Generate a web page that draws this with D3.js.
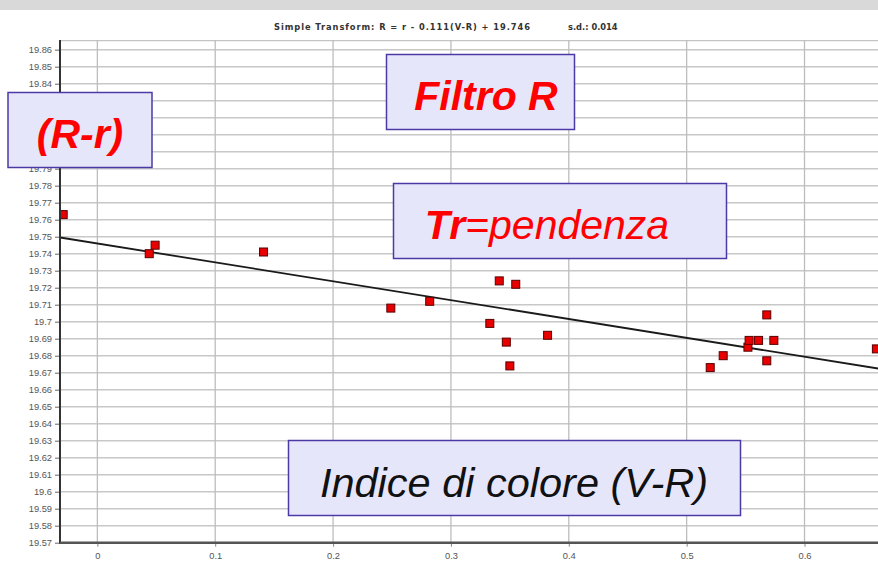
<!DOCTYPE html>
<html>
<head>
<meta charset="utf-8">
<script src="https://cdn.jsdelivr.net/npm/d3@7"></script>
<style>
  html, body { margin: 0; padding: 0; background: #fff; }
  svg { display: block; }
</style>
</head>
<body>
<svg id="chart" width="878" height="576"></svg>
<script>
// Observations: colour index (V-R) and instrumental difference (R-r)
const colorIndex = [-0.029, 0.044, 0.049, 0.141, 0.249, 0.282, 0.341, 0.355, 0.333, 0.347, 0.350, 0.382,
                    0.520, 0.531, 0.552, 0.553, 0.561, 0.574, 0.568, 0.568, 0.661];
const deltaMag   = [19.763, 19.740, 19.745, 19.741, 19.708, 19.712, 19.724, 19.722, 19.699, 19.688, 19.674, 19.692,
                    19.673, 19.680, 19.685, 19.689, 19.689, 19.689, 19.704, 19.677, 19.684];

// Fitted transform
const slope = -0.111;
const intercept = 19.746;

const xTicks = [0, 0.1, 0.2, 0.3, 0.4, 0.5, 0.6];
const xTickLabels = ["0", "0.1", "0.2", "0.3", "0.4", "0.5", "0.6"];
const yTicks = [19.57, 19.58, 19.59, 19.6, 19.61, 19.62, 19.63, 19.64, 19.65, 19.66, 19.67, 19.68, 19.69, 19.7,
                19.71, 19.72, 19.73, 19.74, 19.75, 19.76, 19.77, 19.78, 19.79, 19.8, 19.81, 19.82, 19.83, 19.84, 19.85, 19.86];
const yTickLabels = yTicks.map(v => String(v));

const titleText = "Simple Transform: R = r - 0.111(V-R) + 19.746";
const sdText = "s.d.: 0.014";

const notes = [
  { parts: [{ t: "(R-r)", bold: true }], color: "#ff0000" },
  { parts: [{ t: "Filtro R", bold: true }], color: "#ff0000" },
  { parts: [{ t: "Tr", bold: true }, { t: "=pendenza", bold: false }], color: "#ff0000" },
  { parts: [{ t: "Indice di colore (V-R)", bold: false }], color: "#111111" }
];

// ---- layout ----
const svg = d3.select("#chart");
const W = 878, H = 576;
const plot = { left: 60, top: 40, bottom: 542.7, right: 887 };

const x = d3.scaleLinear().domain([-0.0317, 0.67]).range([plot.left, plot.right]);
const y = d3.scaleLinear().domain([19.57, 19.8657]).range([plot.bottom, plot.top]);

const FONT = "'Liberation Sans', Arial, sans-serif";

// window strip at the very top
svg.append("rect").attr("x", 0).attr("y", 0).attr("width", W).attr("height", 10).attr("fill", "#d9d9d9");

// title
svg.append("text").attr("x", 274).attr("y", 30)
  .attr("font-family", "'DejaVu Sans', Verdana, sans-serif").attr("font-size", 8.3).attr("font-weight", "bold")
  .attr("fill", "#333").attr("textLength", 256).text(titleText);
svg.append("text").attr("x", 568).attr("y", 30)
  .attr("font-family", "'DejaVu Sans', Verdana, sans-serif").attr("font-size", 8.3).attr("font-weight", "bold")
  .attr("fill", "#333").text(sdText);

svg.append("defs").append("clipPath").attr("id", "plotClip")
  .append("rect").attr("x", plot.left).attr("y", plot.top)
  .attr("width", plot.right - plot.left).attr("height", plot.bottom - plot.top);

const g = svg.append("g").attr("clip-path", "url(#plotClip)");

// top border of the plot
g.append("line").attr("x1", plot.left).attr("x2", plot.right)
  .attr("y1", plot.top + 0.5).attr("y2", plot.top + 0.5).attr("stroke", "#c4c4c4").attr("stroke-width", 1.5);

// horizontal grid
g.selectAll("line.hgrid").data(yTicks).join("line").attr("class", "hgrid")
  .attr("x1", plot.left).attr("x2", plot.right)
  .attr("y1", d => y(d)).attr("y2", d => y(d))
  .attr("stroke", "#c8c8c8").attr("stroke-width", 1.6);

// vertical grid
g.selectAll("line.vgrid").data(xTicks).join("line").attr("class", "vgrid")
  .attr("x1", d => x(d)).attr("x2", d => x(d))
  .attr("y1", plot.top).attr("y2", plot.bottom)
  .attr("stroke", "#bdbdbd").attr("stroke-width", 1.3);

// axes
const yAxis = d3.axisLeft(y).tickValues(yTicks).tickSize(5).tickPadding(3)
  .tickFormat((d, i) => yTickLabels[i]);
const yG = svg.append("g").attr("transform", `translate(${plot.left},0)`).call(yAxis);
yG.select(".domain").remove();
yG.selectAll("line").attr("stroke", "#666");
yG.selectAll("text").attr("font-family", FONT).attr("font-size", 9.3).attr("fill", "#555");

const xAxis = d3.axisBottom(x).tickValues(xTicks).tickSize(4).tickPadding(6)
  .tickFormat((d, i) => xTickLabels[i]);
const xG = svg.append("g").attr("transform", `translate(0,${plot.bottom})`).call(xAxis);
xG.select(".domain").remove();
xG.selectAll("line").attr("stroke", "#888");
xG.selectAll("text").attr("font-family", FONT).attr("font-size", 9.3).attr("fill", "#555");

svg.append("line").attr("x1", plot.left).attr("x2", plot.left)
  .attr("y1", plot.top).attr("y2", plot.bottom + 1)
  .attr("stroke", "#333").attr("stroke-width", 2);
svg.append("line").attr("x1", plot.left).attr("x2", W)
  .attr("y1", plot.bottom).attr("y2", plot.bottom)
  .attr("stroke", "#555").attr("stroke-width", 2.5);

// regression line
const xd = x.domain();
g.append("line")
  .attr("x1", x(xd[0])).attr("y1", y(intercept + slope * xd[0]))
  .attr("x2", x(xd[1])).attr("y2", y(intercept + slope * xd[1]))
  .attr("stroke", "#1a1a1a").attr("stroke-width", 1.8);

// data markers
const pts = colorIndex.map((v, i) => ({ vx: v, vy: deltaMag[i] }));
const S = 8;
g.selectAll("rect.pt").data(pts).join("rect").attr("class", "pt")
  .attr("x", d => x(d.vx) - S / 2).attr("y", d => y(d.vy) - S / 2)
  .attr("width", S).attr("height", S)
  .attr("fill", "#e80000").attr("stroke", "#5a0000").attr("stroke-width", 1);

// annotation boxes
const boxes = [
  { x: 8, y: 92.5, w: 144, h: 75, tx: 80, ty: 148, size: 41 },
  { x: 386.5, y: 54.5, w: 188, h: 75, tx: 486, ty: 110, size: 41 },
  { x: 393.5, y: 183.5, w: 333, h: 75, tx: 547, ty: 238.5, size: 41 },
  { x: 288.5, y: 440.5, w: 452, h: 75, tx: 514, ty: 497, size: 41.5 }
];
boxes.forEach((b, i) => {
  const n = notes[i];
  svg.append("rect").attr("x", b.x).attr("y", b.y).attr("width", b.w).attr("height", b.h)
    .attr("fill", "#e6e6fb").attr("stroke", "#4b3aa6").attr("stroke-width", 1.5);
  const t = svg.append("text").attr("x", b.tx).attr("y", b.ty).attr("text-anchor", "middle")
    .attr("font-family", FONT).attr("font-style", "italic").attr("font-size", b.size).attr("fill", n.color);
  n.parts.forEach(p => {
    t.append("tspan").attr("font-weight", p.bold ? "bold" : "normal").text(p.t);
  });
});
</script>
</body>
</html>
